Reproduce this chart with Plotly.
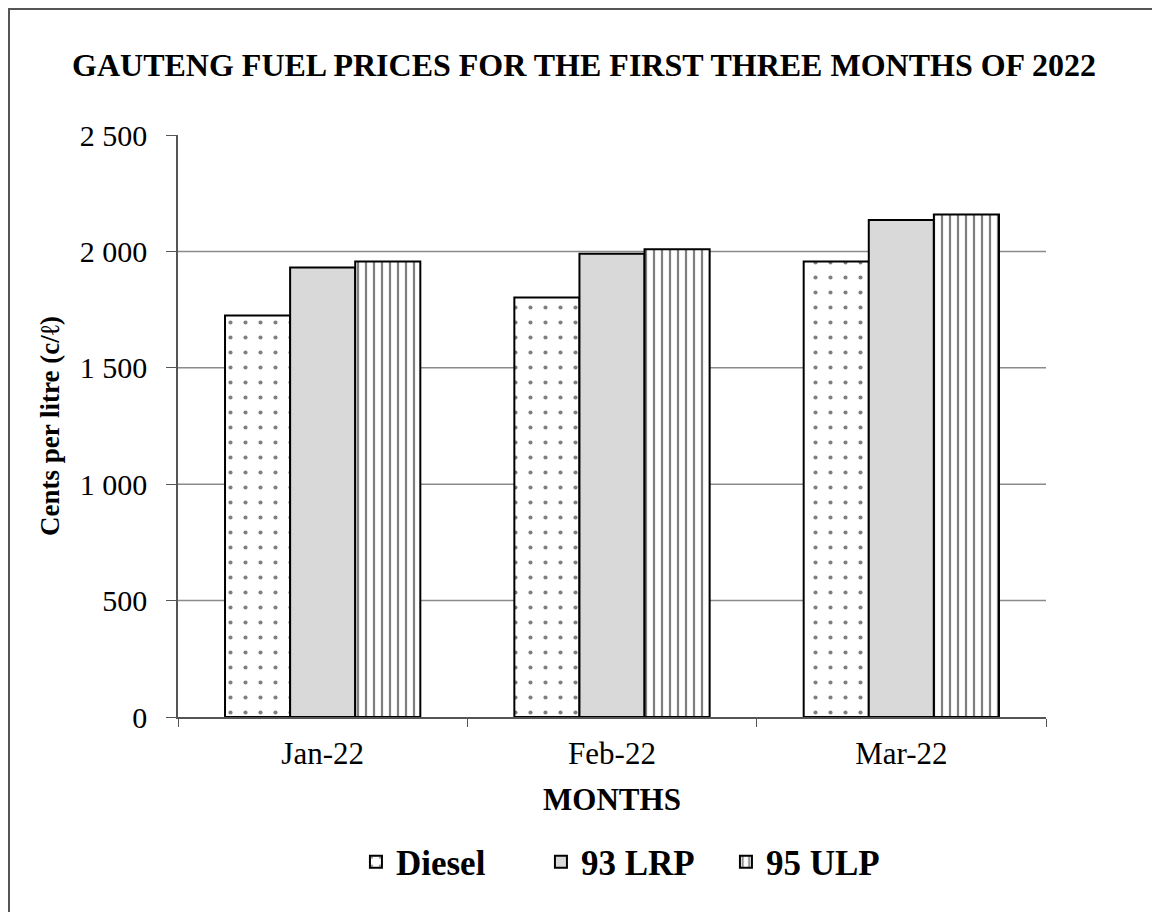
import plotly.graph_objects as go

months = ["Jan-22", "Feb-22", "Mar-22"]
diesel = [1725, 1802, 1957]
lrp93 = [1931, 1990, 2135]
ulp95 = [1957, 2009, 2159]
y_ticks = [0, 500, 1000, 1500, 2000, 2500]
y_tick_text = ["0", "500", "1 000", "1 500", "2 000", "2 500"]
grid_vals = [500, 1000, 1500, 2000]

SERIF = "Liberation Serif, Times New Roman, serif"

fig = go.Figure()
fig.add_trace(go.Bar(
    name="Diesel", x=months, y=diesel,
    marker=dict(color="white", line=dict(color="black", width=2),
                pattern=dict(shape=".", fgcolor="black", bgcolor="white", size=15, solidity=0.06)),
))
fig.add_trace(go.Bar(
    name="93 LRP", x=months, y=lrp93,
    marker=dict(color="#d9d9d9", line=dict(color="black", width=2)),
))
fig.add_trace(go.Bar(
    name="95 ULP", x=months, y=ulp95,
    marker=dict(color="white", line=dict(color="black", width=2),
                pattern=dict(shape="|", fgcolor="black", bgcolor="white", size=8, solidity=0.28)),
))

shapes = []
for g in grid_vals:
    shapes.append(dict(type="line", xref="paper", yref="y", x0=0, x1=1, y0=g, y1=g,
                       line=dict(color="#8a8a8a", width=1.5), layer="below"))
# outer frame (bottom edge falls outside the figure, as in the reference)
shapes.append(dict(type="rect", xref="paper", yref="paper",
                   x0=-0.1947, x1=1.1279, y0=-0.36, y1=1.2165,
                   line=dict(color="#555555", width=2), fillcolor="rgba(0,0,0,0)"))

fig.update_layout(
    width=1152, height=904,
    margin=dict(l=170, r=114, t=127, b=195),
    paper_bgcolor="white", plot_bgcolor="white",
    barmode="group", bargap=0.325, bargroupgap=0,
    font=dict(family=SERIF, color="black", size=30),
    title=dict(text="<b>GAUTENG FUEL PRICES FOR THE FIRST THREE MONTHS OF 2022</b>",
               x=0.5, xanchor="center", y=1 - 57 / 904, yanchor="middle",
               font=dict(family=SERIF, size=32, color="black")),
    shapes=shapes,
    legend=dict(orientation="h", x=0.205, xanchor="left", y=-0.249, yanchor="middle",
                font=dict(family=SERIF, size=35, color="black", weight="bold"),
                traceorder="normal", entrywidth=140, entrywidthmode="pixels"),
    showlegend=True,
)
fig.update_xaxes(
    showline=True, linecolor="#555555", linewidth=1.5,
    ticks="outside", tickson="boundaries", ticklen=8, tickcolor="#555555",
    tickfont=dict(family=SERIF, size=31), ticklabelstandoff=8,
    title=dict(text="<b>MONTHS</b>", font=dict(family=SERIF, size=31), standoff=18),
    showgrid=False,
)
fig.update_yaxes(
    range=[0, 2500], tickvals=y_ticks, ticktext=y_tick_text,
    showline=True, linecolor="#555555", linewidth=1.5,
    ticks="outside", ticklen=10, tickcolor="#555555",
    tickfont=dict(family=SERIF, size=30), ticklabelstandoff=13,
    title=dict(text="<b>Cents per litre (c/ℓ)</b>", font=dict(family=SERIF, size=27), standoff=12),
    showgrid=False, zeroline=False,
)

fig.write_html("out.html")
